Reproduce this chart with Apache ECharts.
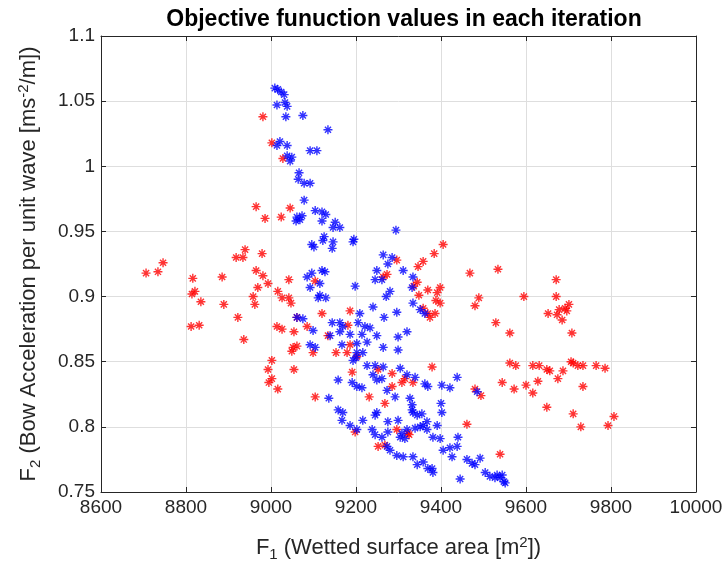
<!DOCTYPE html>
<html><head><meta charset="utf-8">
<script src="https://cdn.jsdelivr.net/npm/echarts@6/dist/echarts.min.js"></script>
<style>html,body{margin:0;padding:0;background:#fff}#c{width:728px;height:569px}</style>
</head><body><div id="c"></div>
<script>
const titleText = 'Objective funuction values in each iteration';
const xTicks = [8600, 8800, 9000, 9200, 9400, 9600, 9800, 10000];
const yTicks = [0.75, 0.8, 0.85, 0.9, 0.95, 1, 1.05, 1.1];

const blueF1 = [9009,9016,9024,9031,9014,9033,9038,9035,9075,9134,9021,9014,9038,9092,9108,9038,9049,9045,9066,9064,9078,9092,
9078,9104,9120,9129,9061,9068,9059,9073,9120,9151,9146,9162,9125,9122,9146,9144,9096,9101,9195,9193,9294,9264,9285,9275,9249,9311,9334,9245,9261,
9085,9096,9120,9127,9092,9115,9198,9115,9111,9129,9280,9271,9332,9334,9240,9209,9296,9351,9362,9266,9144,9162,9169,9205,9221,9233,9162,9139,9186,9214,9249,9299,9320,9099,
9061,9075,9092,9104,9167,9202,9226,9264,9299,9202,9216,9193,9200,
9158,9191,9202,9214,9226,9245,9264,9240,9249,9261,9304,9320,9339,9273,9292,9327,9136,9158,9169,9167,9216,9245,9249,9275,9299,9332,9344,
9186,9202,9238,9245,9261,9275,9304,9320,9339,9358,9367,9273,9280,9296,9311,9334,9344,9358,9369,
9362,9369,9402,9421,9438,9485,9332,9334,9355,9400,9402,9367,9391,9351,9308,9315,9381,9398,9440,9438,9421,9405,9426,9379,9381,
9461,9473,9492,9480,9504,9515,9532,9539,9527,9445,9551,9544,9548];
const blueF2 = [1.060,1.059,1.057,1.055,1.047,1.049,1.046,1.038,1.039,1.028,1.019,1.016,1.016,1.012,1.012,1.008,1.007,1.004,0.995,0.990,0.987,0.987,
0.974,0.966,0.965,0.963,0.961,0.959,0.958,0.962,0.958,0.957,0.953,0.953,0.946,0.943,0.942,0.937,0.940,0.938,0.944,0.942,0.951,0.932,0.930,0.925,0.920,0.920,0.915,0.913,0.913,
0.915,0.918,0.920,0.919,0.907,0.910,0.908,0.901,0.899,0.899,0.904,0.900,0.907,0.895,0.892,0.887,0.888,0.890,0.887,0.884,0.880,0.880,0.877,0.880,0.877,0.876,0.873,0.870,0.871,0.871,0.870,0.869,0.873,0.874,
0.884,0.883,0.863,0.861,0.863,0.864,0.865,0.861,0.859,0.857,0.857,0.851,0.853,
0.836,0.834,0.831,0.830,0.847,0.847,0.846,0.840,0.836,0.837,0.845,0.840,0.838,0.828,0.823,0.822,0.822,0.813,0.811,0.805,0.805,0.809,0.811,0.804,0.805,0.813,0.809,
0.801,0.798,0.798,0.794,0.792,0.796,0.792,0.798,0.799,0.801,0.798,0.785,0.782,0.778,0.777,0.777,0.771,0.773,0.768,
0.833,0.831,0.832,0.830,0.838,0.827,0.817,0.811,0.810,0.818,0.811,0.804,0.801,0.800,0.795,0.791,0.792,0.791,0.792,0.785,0.784,0.782,0.777,0.768,0.765,
0.775,0.772,0.776,0.771,0.765,0.762,0.763,0.761,0.761,0.760,0.757,0.763,0.758];

const redF1 = [8981,9002,9028,8965,8986,9024,9045,8939,8918,8934,8979,8746,8706,8734,8816,8885,8965,8981,8993,8969,8821,8814,8958,9016,9026,9042,9042,9047,8835,8889,8962,8922,9061,8812,8831,9014,9026,9054,9085,8936,
9405,9384,9358,9346,9296,9273,9264,9104,9344,9336,9369,9398,9391,9348,9388,9398,9358,9369,9386,9374,9468,9534,9489,9480,9529,9562,9186,9120,9134,9181,
9671,9595,9671,9701,9692,9678,9696,9652,9673,9685,9708,9562,9576,9616,9631,9649,9656,9687,9706,9711,9722,9734,9765,9786,9544,9572,9600,9628,9616,9675,9734,9649,9711,9729,9793,9807,9539,
9379,9334,9315,9480,9494,9461,9322,9052,9061,9002,8993,9054,9002,8995,9016,9104,9099,9153,9179,9186,9049,9202,9191,9231,9268,9252,9285,9308,9285,9296,9325,9252,9268,9198];
const redF2 = [1.038,1.018,1.006,0.969,0.960,0.961,0.968,0.936,0.930,0.930,0.933,0.926,0.918,0.919,0.914,0.915,0.920,0.916,0.910,0.907,0.904,0.902,0.900,0.904,0.899,0.913,0.899,0.895,0.896,0.894,0.894,0.884,0.884,0.877,0.878,0.877,0.875,0.873,0.877,0.867,
0.940,0.933,0.927,0.923,0.928,0.917,0.915,0.912,0.911,0.908,0.905,0.907,0.903,0.901,0.897,0.895,0.891,0.887,0.887,0.884,0.918,0.921,0.899,0.893,0.880,0.872,0.889,0.887,0.870,0.878,
0.913,0.900,0.900,0.894,0.891,0.890,0.889,0.887,0.886,0.882,0.872,0.849,0.847,0.847,0.847,0.844,0.843,0.843,0.850,0.849,0.847,0.847,0.847,0.845,0.834,0.829,0.832,0.835,0.826,0.837,0.831,0.815,0.810,0.800,0.801,0.808,0.779,
0.846,0.834,0.837,0.829,0.824,0.802,0.795,0.861,0.862,0.851,0.844,0.844,0.837,0.834,0.829,0.823,0.857,0.857,0.857,0.863,0.858,0.854,0.842,0.823,0.818,0.844,0.841,0.834,0.831,0.798,0.794,0.785,0.786,0.796];

const blueData = blueF1.map((v, i) => [v, blueF2[i]]);
const redData = redF1.map((v, i) => [v, redF2[i]]);

const star = 'path://M5,0L5,10M0,5L10,5M1.6,1.6L8.4,8.4M1.6,8.4L8.4,1.6';
const txt = '#262626';
const gridCol = '#dedede';
const FF = '"Liberation Sans", Arial, sans-serif';

const chart = echarts.init(document.getElementById('c'), null, {renderer: 'canvas'});
const baseAxis = {
  axisLine: {show: true, lineStyle: {color: txt, width: 1}},
  axisTick: {show: true, inside: true, length: 5, lineStyle: {color: txt}},
  splitLine: {show: false}
};
const richLab = {
  a: {fontSize: 22, fontFamily: FF, color: txt, lineHeight: 28},
  s: {fontSize: 15, fontFamily: FF, color: txt, padding: [14, 0, 0, 0], lineHeight: 28},
  p: {fontSize: 15, fontFamily: FF, color: txt, padding: [0, 0, 11, 0], lineHeight: 28}
};
chart.setOption({
  animation: false,
  backgroundColor: '#fff',
  title: {
    text: titleText, left: 399, top: 3, textAlign: 'center',
    textStyle: {fontFamily: FF, fontWeight: 'bold', fontSize: 23, color: '#000'}
  },
  grid: {left: 101, right: 32, top: 36, bottom: 77, containLabel: false},
  xAxis: [Object.assign({}, baseAxis, {
    type: 'value', min: xTicks[0], max: xTicks[xTicks.length - 1], interval: 200, position: 'bottom',
    splitLine: {show: true, lineStyle: {color: gridCol, width: 1}},
    axisLabel: {color: txt, fontSize: 19, fontFamily: FF, margin: 6, formatter: v => String(v)},
    name: '{a|F}{s|1}{a| (Wetted surface area [m}{p|2}{a|])}',
    nameLocation: 'middle', nameGap: 42,
    nameTextStyle: {rich: richLab}
  }), Object.assign({}, baseAxis, {
    type: 'value', min: xTicks[0], max: xTicks[xTicks.length - 1], interval: 200, position: 'top',
    axisLabel: {show: false}
  })],
  yAxis: [Object.assign({}, baseAxis, {
    type: 'value', min: yTicks[0], max: yTicks[yTicks.length - 1], interval: 0.05, position: 'left',
    splitLine: {show: true, lineStyle: {color: gridCol, width: 1}},
    axisLabel: {color: txt, fontSize: 19, fontFamily: FF, margin: 6, formatter: v => String(+v.toFixed(2))},
    name: '{a|F}{s|2}{a| (Bow Acceleration per unit wave [ms}{p|-2}{a|/m])}',
    nameLocation: 'middle', nameGap: 58, nameRotate: 90,
    nameTextStyle: {rich: richLab}
  }), Object.assign({}, baseAxis, {
    type: 'value', min: yTicks[0], max: yTicks[yTicks.length - 1], interval: 0.05, position: 'right',
    axisLabel: {show: false}
  })],
  series: [
    {type: 'scatter', name: 'red', data: redData, symbol: star, symbolSize: 9,
     itemStyle: {color: 'rgba(0,0,0,0)', borderColor: '#ff0000', borderWidth: 1.4}},
    {type: 'scatter', name: 'blue', data: blueData, symbol: star, symbolSize: 9,
     itemStyle: {color: 'rgba(0,0,0,0)', borderColor: '#0000ff', borderWidth: 1.4}}
  ]
});
</script></body></html>
